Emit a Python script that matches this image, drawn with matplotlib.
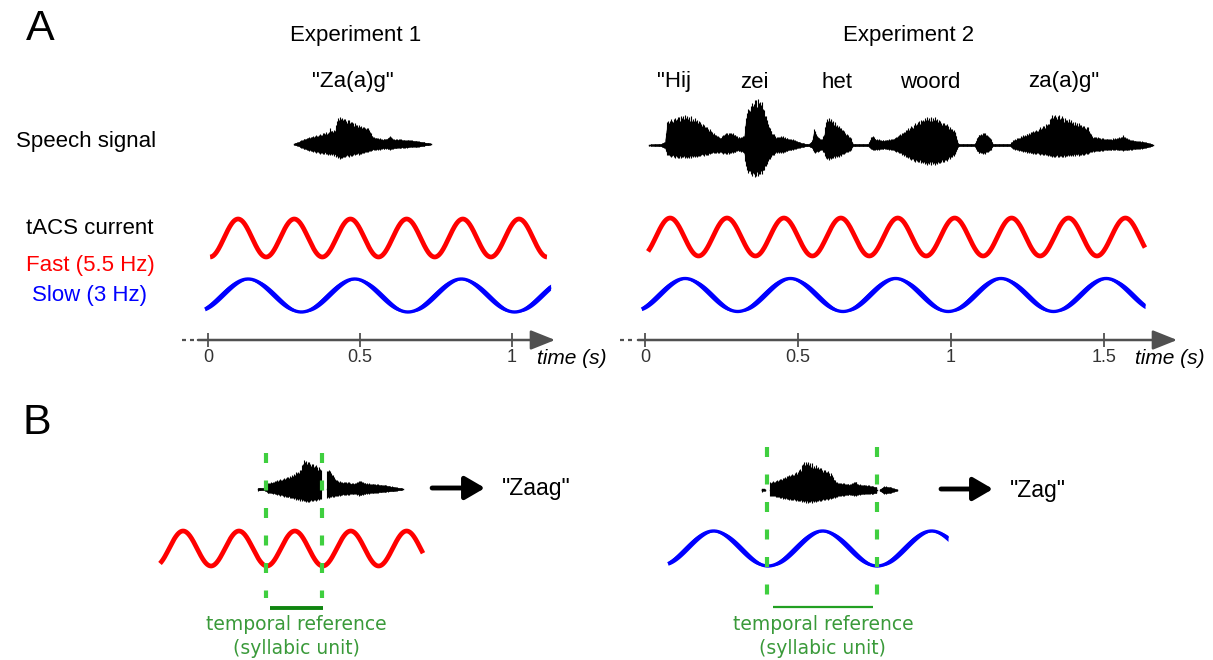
import numpy as np
import matplotlib
matplotlib.use("Agg")
import matplotlib.pyplot as plt

W, H, DPI = 1213, 660, 100
FONT = ["Liberation Sans", "DejaVu Sans"]

# ---------------- data ----------------
panel_letters = ["A", "B"]
exp_titles = ["Experiment 1", "Experiment 2"]
exp1_words = ['"Za(a)g"']
exp2_words = ['"Hij', 'zei', 'het', 'woord', 'za(a)g"']
row_labels = ["Speech signal", "tACS current", "Fast (5.5 Hz)", "Slow (3 Hz)"]
exp1_ticks = [0, 0.5, 1]
exp1_ticklabels = ["0", "0.5", "1"]
exp2_ticks = [0, 0.5, 1, 1.5]
exp2_ticklabels = ["0", "0.5", "1", "1.5"]
axis_label = "time (s)"
percepts = ['"Zaag"', '"Zag"']
ref_text = ["temporal reference", "(syllabic unit)"]

# tACS waves (seconds): start, end, time of one peak, period
exp1_fast = dict(start=0.007, end=1.116, peak=0.099, period=0.185)
exp1_slow = dict(start=-0.010, end=1.128, peak=0.132, period=0.351)
exp2_fast = dict(start=0.010, end=1.634, peak=0.082, period=0.186)
exp2_slow = dict(start=-0.011, end=1.634, peak=0.131, period=0.344)
b_fast = dict(start=0.000, end=0.866, peak=0.076, period=0.184)
b_slow = dict(start=0.000, end=0.922, peak=0.150, period=0.359)

# syllable boundaries (dashed) and syllabic-unit bars in panel B (seconds)
b_fast_refs = [0.349, 0.535]
b_fast_bar = [0.362, 0.536]
b_slow_refs = [0.326, 0.688]
b_slow_bar = [0.346, 0.675]

# speech envelopes: time (s), upper excursion, lower excursion
exp1_speech_t = [0.283, 0.296, 0.310, 0.323, 0.336, 0.349, 0.362, 0.375, 0.385, 0.395,
                 0.402, 0.408, 0.415, 0.421, 0.425, 0.435, 0.445, 0.455, 0.465, 0.475,
                 0.490, 0.505, 0.520, 0.530, 0.538, 0.548, 0.560, 0.575, 0.590, 0.600,
                 0.610, 0.630, 0.650, 0.670, 0.690, 0.710, 0.725, 0.734]
exp1_speech_up = [0.5, 2, 4, 6, 7, 8, 9, 10, 12, 11, 16, 13, 14, 17, 27, 27, 26, 25, 24, 22,
                  20, 18, 17, 16, 9, 7, 6, 5, 6, 8, 5, 5, 4, 4, 3, 2, 1, 0.5]
exp1_speech_dn = [0.5, 2, 4, 6, 7, 8, 9, 10, 10, 11, 11, 11, 12, 13, 14, 15, 14, 13, 13, 12,
                  11, 10, 9, 8, 7, 6, 6, 5, 5, 6, 5, 4, 4, 3, 3, 2, 1, 0.5]

exp2_speech_t = [0.013, 0.049, 0.065, 0.072, 0.088, 0.108, 0.127, 0.147, 0.167, 0.186,
                 0.206, 0.225, 0.245, 0.265, 0.284, 0.304, 0.324, 0.330, 0.343, 0.363,
                 0.379, 0.395, 0.412, 0.428, 0.448, 0.467, 0.490, 0.513, 0.533, 0.546,
                 0.552, 0.565, 0.578, 0.585, 0.592, 0.611, 0.631, 0.650, 0.670, 0.680,
                 0.729, 0.742, 0.755, 0.781, 0.807, 0.830, 0.853, 0.876, 0.899, 0.922,
                 0.944, 0.967, 0.990, 1.013, 1.023, 1.078, 1.088, 1.108, 1.127, 1.137,
                 1.193, 1.203, 1.225, 1.252, 1.278, 1.304, 1.317, 1.330, 1.350, 1.369,
                 1.389, 1.408, 1.428, 1.448, 1.458, 1.487, 1.520, 1.552, 1.562, 1.578,
                 1.611, 1.637, 1.660]
exp2_speech_up = [0.5, 1, 3, 24, 26, 28, 30, 29, 26, 22,
                  17, 12, 8, 12, 13, 8, 9, 32, 40, 46,
                  45, 30, 14, 8, 9, 7, 5, 2, 1, 4,
                  17, 8, 6, 10, 28, 26, 20, 14, 8, 1,
                  1, 10, 6, 5, 6, 10, 15, 20, 25, 28,
                  28, 24, 20, 14, 1, 1, 10, 13, 8, 1,
                  1, 5, 8, 12, 15, 20, 22, 30, 30, 28,
                  25, 23, 20, 18, 9, 7, 6, 8, 10, 6,
                  4, 3, 0.5]
exp2_speech_dn = [0.5, 1, 3, 10, 12, 13, 13, 13, 12, 11,
                  10, 8, 8, 9, 8, 6, 8, 25, 30, 32,
                  30, 22, 12, 8, 8, 6, 4, 2, 1, 3,
                  8, 7, 5, 8, 15, 14, 12, 9, 6, 1,
                  1, 5, 5, 4, 5, 8, 12, 16, 18, 20,
                  20, 18, 15, 10, 1, 1, 8, 9, 6, 1,
                  1, 4, 6, 8, 9, 10, 11, 12, 12, 12,
                  11, 11, 10, 9, 7, 6, 5, 5, 6, 5,
                  4, 3, 0.5]

# panel B speech, split in segments where the signal is interrupted
bzaag_segments = [
    ([0.323, 0.342, 0.356, 0.379, 0.402, 0.428, 0.451, 0.464, 0.471, 0.487, 0.507, 0.527, 0.533],
     [1.5, 1, 6, 8, 10, 13, 17, 20, 29, 28, 25, 21, 19],
     [1.5, 1, 4, 5, 7, 9, 11, 12, 12, 13, 12, 11, 10]),
    ([0.550, 0.553, 0.566, 0.583, 0.609, 0.642, 0.659, 0.675, 0.708, 0.741, 0.774, 0.800],
     [18, 20, 16, 8, 7, 6, 9, 6, 5, 4, 2, 0.5],
     [9, 9, 8, 7, 6, 5, 7, 5, 4, 3, 2, 0.5]),
]
bzag_segments = [
    ([0.310, 0.320], [1.5, 1.5], [1.5, 1.5]),
    ([0.336, 0.359, 0.382, 0.405, 0.425, 0.438, 0.445, 0.464, 0.484, 0.504, 0.524, 0.540,
      0.553, 0.576, 0.599, 0.616, 0.626, 0.652, 0.675, 0.688],
     [8, 10, 13, 16, 18, 22, 29, 28, 25, 22, 19, 16, 8, 7, 6, 9, 6, 5, 4, 3],
     [6, 7, 9, 10, 11, 12, 12, 13, 12, 11, 10, 9, 7, 6, 5, 6, 5, 4, 4, 3]),
    ([0.698, 0.711, 0.731, 0.754], [1, 4, 3, 0.5], [1, 4, 3, 0.5]),
]

# ---------------- figure ----------------
fig = plt.figure(figsize=(W / DPI, H / DPI), dpi=DPI)
fig.patch.set_facecolor("white")

bg = fig.add_axes([0, 0, 1, 1], facecolor="none")
bg.set_xlim(0, W)
bg.set_ylim(H, 0)
bg.axis("off")


def time_axes(origin_px, px_per_s):
    ax = fig.add_axes([0, 0, 1, 1], facecolor="none")
    ax.set_xlim(-origin_px / px_per_s, (W - origin_px) / px_per_s)
    ax.set_ylim(H, 0)
    ax.axis("off")
    ax.px = 1.0 / px_per_s
    return ax


RED = "#ff0000"
BLUE = "#0000ff"
GREEN_DASH = "#3fcf3f"
GREEN_TXT = "#3a9a3a"
AXC = "#505050"
HAIR = np.array([1.0, 0.9, 0.97, 0.84, 1.0, 0.92, 0.86, 0.96, 0.88, 1.0, 0.9, 0.94])


def fast_wave(ax, w, yc, amp):
    t = np.linspace(w["start"], w["end"], 800)
    y = yc - amp * np.cos(2 * np.pi * (t - w["peak"]) / w["period"])
    ax.plot(t, y, color=RED, lw=3.4, solid_capstyle="butt", zorder=3)


def slow_wave(ax, w, yc, amp, shift):
    t = np.linspace(w["start"], w["end"], 800)
    f = lambda tt: yc - amp * np.cos(2 * np.pi * (tt - w["peak"]) / w["period"])
    ax.fill_between(t, f(t - shift), f(t + shift), color=BLUE, lw=0, zorder=3)
    ax.plot(t, f(t), color=BLUE, lw=2.4, solid_capstyle="butt", zorder=3)


def speech(ax, t, up, dn, yc, base=True):
    t = np.asarray(t); up = np.asarray(up, float); dn = np.asarray(dn, float)
    tf = np.arange(t[0], t[-1] + 1e-9, 0.8 * ax.px)
    u = np.interp(tf, t, up)
    d = np.interp(tf, t, dn)
    k = HAIR[np.arange(len(tf)) % len(HAIR)]
    ax.fill_between(tf, yc - 0.8 * u, yc + 0.8 * d, color="black", lw=0.3,
                    edgecolor="black", zorder=3)
    ax.vlines(tf, yc - u * k, yc + d * k, color="black", lw=0.8, zorder=3)
    if base:
        ax.plot([t[0], t[-1]], [yc, yc], color="black", lw=1.0, zorder=3)


def time_axis(ax, ticks, labels, y, dash_ts, line_start, tip, label_x):
    for a, b in dash_ts:
        ax.plot([a, b], [y, y], color=AXC, lw=1.6, solid_capstyle="butt")
    ax.annotate("", xy=(tip, y), xytext=(line_start, y),
                arrowprops=dict(arrowstyle="-|>,head_length=0.75,head_width=0.3",
                                color=AXC, lw=1.8, mutation_scale=20, shrinkA=0, shrinkB=0))
    ax.vlines(ticks, y - 7, y + 7, color=AXC, lw=1.3)
    for tk, lb in zip(ticks, labels):
        ax.text(tk, y + 17, lb, ha="center", va="center", fontsize=13,
                color="#333333", family=FONT)
    ax.text(label_x, y + 18, axis_label, ha="left", va="center", fontsize=15,
            style="italic", color="black", family=FONT)


# ---- Panel A, experiment 1 ----
ax1 = time_axes(208, 303.7)
fast_wave(ax1, exp1_fast, 238, 19)
slow_wave(ax1, exp1_slow, 295.5, 16.5, 0.012)
speech(ax1, exp1_speech_t, exp1_speech_up, exp1_speech_dn, 144)
time_axis(ax1, exp1_ticks, exp1_ticklabels, 340,
          [(-0.086, -0.073), (-0.059, -0.046)], -0.033, 1.143, 1.083)

# ---- Panel A, experiment 2 ----
ax2 = time_axes(645, 306.0)
fast_wave(ax2, exp2_fast, 237, 19)
slow_wave(ax2, exp2_slow, 295, 16.5, 0.012)
speech(ax2, exp2_speech_t, exp2_speech_up, exp2_speech_dn, 145)
time_axis(ax2, exp2_ticks, exp2_ticklabels, 340,
          [(-0.082, -0.069), (-0.056, -0.042)], -0.023, 1.739, 1.602)

# ---- Panel B, left (fast) ----
axb1 = time_axes(160, 303.7)
fast_wave(axb1, b_fast, 548.5, 17.5)
for seg in bzaag_segments:
    speech(axb1, seg[0], seg[1], seg[2], 489)
axb1.vlines(b_fast_refs, 453, 598, color=GREEN_DASH, lw=3.0, linestyles=[(0, (2.4, 4.2))], zorder=4)
axb1.plot(b_fast_bar, [608, 608], color="#0f850f", lw=2.8, solid_capstyle="butt")
axb1.annotate("", xy=(1.070, 488), xytext=(0.896, 488),
              arrowprops=dict(arrowstyle="-|>,head_length=0.6,head_width=0.35",
                              color="black", lw=3.5, mutation_scale=20, shrinkA=0, shrinkB=0))
axb1.text(1.125, 489, percepts[0], ha="left", va="center", fontsize=16.5, family=FONT)
axb1.text(0.448, 624, ref_text[0], ha="center", va="center", fontsize=13.5,
          color=GREEN_TXT, family="DejaVu Sans")
axb1.text(0.448, 648, ref_text[1], ha="center", va="center", fontsize=13.5,
          color=GREEN_TXT, family="DejaVu Sans")

# ---- Panel B, right (slow) ----
axb2 = time_axes(668, 303.7)
slow_wave(axb2, b_slow, 548.5, 17.5, 0.012)
for seg in bzag_segments:
    speech(axb2, seg[0], seg[1], seg[2], 490)
axb2.vlines(b_slow_refs, 447, 597, color=GREEN_DASH, lw=3.0, linestyles=[(0, (2.4, 4.2))], zorder=4)
axb2.plot(b_slow_bar, [607, 607], color="#22a022", lw=1.6, solid_capstyle="butt")
axb2.annotate("", xy=(1.070, 489), xytext=(0.899, 489),
              arrowprops=dict(arrowstyle="-|>,head_length=0.6,head_width=0.35",
                              color="black", lw=3.5, mutation_scale=20, shrinkA=0, shrinkB=0))
axb2.text(1.126, 491, percepts[1], ha="left", va="center", fontsize=16.5, family=FONT)
axb2.text(0.510, 624, ref_text[0], ha="center", va="center", fontsize=13.5,
          color=GREEN_TXT, family="DejaVu Sans")
axb2.text(0.510, 648, ref_text[1], ha="center", va="center", fontsize=13.5,
          color=GREEN_TXT, family="DejaVu Sans")

# ---- text in pixel layout ----
bg.text(40, 29, panel_letters[0], ha="center", va="center", fontsize=31, family=FONT)
bg.text(37, 423, panel_letters[1], ha="center", va="center", fontsize=31, family=FONT)
bg.text(356, 35, exp_titles[0], ha="center", va="center", fontsize=16, family=FONT)
bg.text(909, 35, exp_titles[1], ha="center", va="center", fontsize=16, family=FONT)
bg.text(353, 82, exp1_words[0], ha="center", va="center", fontsize=16, family=FONT)
for w, x in zip(exp2_words, [674, 754, 837, 930, 1064]):
    bg.text(x, 82, w, ha="center", va="center", fontsize=16, family=FONT)
bg.text(86, 141, row_labels[0], ha="center", va="center", fontsize=16, family=FONT)
bg.text(90, 228, row_labels[1], ha="center", va="center", fontsize=16, family=FONT)
bg.text(90, 265, row_labels[2], ha="center", va="center", fontsize=16, family=FONT, color=RED)
bg.text(90, 296, row_labels[3], ha="center", va="center", fontsize=16, family=FONT, color=BLUE)

fig.savefig("out.png", dpi=DPI, facecolor="white")
